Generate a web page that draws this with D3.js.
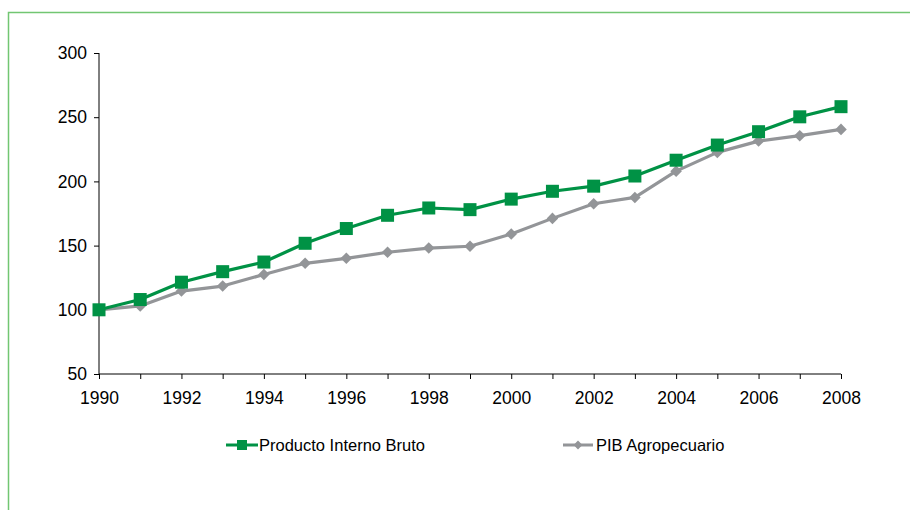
<!DOCTYPE html>
<html><head><meta charset="utf-8">
<script src="https://cdn.jsdelivr.net/npm/d3@7"></script>
<style>
html,body{margin:0;padding:0;background:#fff;}
svg{display:block;font-family:"Liberation Sans",Arial,sans-serif;}
</style></head>
<body>
<svg id="c" width="910" height="510"></svg>
<script>
const years = [1990,1991,1992,1993,1994,1995,1996,1997,1998,1999,2000,2001,2002,2003,2004,2005,2006,2007,2008];
const pib = [100,108,121.5,129.7,137.2,151.8,163.3,173.6,179.3,178,186.2,192.3,196.3,204.2,216.5,228.3,238.7,250.3,258.2];
const pibAgro = [100,103,114.6,118.5,127.5,136.2,140.1,144.8,148.1,149.5,159,171.2,182.6,187.5,208,222.6,231.4,235.6,240.5];
const yTicks = [50,100,150,200,250,300];
const xLabelYears = [1990,1992,1994,1996,1998,2000,2002,2004,2006,2008];
const seriesNames = ["Producto Interno Bruto","PIB Agropecuario"];
const colors = ["#009245","#939598"];

const svg = d3.select("#c");
// frame
svg.append("path").attr("d","M8.5,510 V12.5 H910").attr("fill","none").attr("stroke","#72c672").attr("stroke-width",1.5);

const x = d3.scaleLinear().domain([1990,2008]).range([99,841]);
const y = d3.scaleLinear().domain([50,300]).range([374,53]);

const yAxis = svg.append("g").attr("transform","translate(99,0)")
  .call(d3.axisLeft(y).tickValues(yTicks).tickSize(5).tickPadding(7).tickFormat(d3.format("d")));
const xAxis = svg.append("g").attr("transform","translate(0,374)")
  .call(d3.axisBottom(x).tickValues(years).tickSize(5).tickPadding(13)
    .tickFormat(d => xLabelYears.includes(d) ? String(d) : ""));
[yAxis,xAxis].forEach(g=>{
  g.selectAll("path,line").attr("stroke","#000").attr("stroke-width",1);
  g.selectAll("text").attr("fill","#000").style("font-size","17.5px").style("font-family","'Liberation Sans',Arial,sans-serif");
});
xAxis.selectAll("text").attr("dy","0.71em");
yAxis.select(".domain").attr("d","M0,374V53");
xAxis.select(".domain").attr("d","M99,0H841");

const line = d3.line().x((d,i)=>x(years[i])).y(d=>y(d));
const data = [pib,pibAgro];

// gray first, then green on top
[1,0].forEach(k=>{
  svg.append("path").datum(data[k]).attr("d",line).attr("fill","none")
    .attr("stroke",colors[k]).attr("stroke-width",3.2).attr("stroke-linejoin","round");
});
svg.append("g").selectAll("path").data(pibAgro).join("path")
  .attr("transform",(d,i)=>`translate(${x(years[i])},${y(d)})`)
  .attr("d",d3.symbol(d3.symbolDiamond2,85)()).attr("fill",colors[1]);
svg.append("g").selectAll("rect").data(pib).join("rect")
  .attr("x",(d,i)=>x(years[i])-6.5).attr("y",d=>y(d)-6.5).attr("width",13).attr("height",13)
  .attr("fill",colors[0]);

// legend
const leg = [{x0:226,x1:258,tx:259},{x0:563,x1:593,tx:596}];
leg.forEach((l,k)=>{
  const g = svg.append("g");
  g.append("line").attr("x1",l.x0).attr("x2",l.x1).attr("y1",445).attr("y2",445).attr("stroke",colors[k]).attr("stroke-width",3);
  const cx=(l.x0+l.x1)/2;
  if(k===0) g.append("rect").attr("x",cx-5).attr("y",440).attr("width",10).attr("height",10).attr("fill",colors[0]);
  else g.append("path").attr("transform",`translate(${cx},445)`).attr("d",d3.symbol(d3.symbolDiamond2,50)()).attr("fill",colors[1]);
  g.append("text").attr("x",l.tx).attr("y",451).text(seriesNames[k]).style("font-size","16.5px").attr("fill","#000");
});
</script>
</body></html>
